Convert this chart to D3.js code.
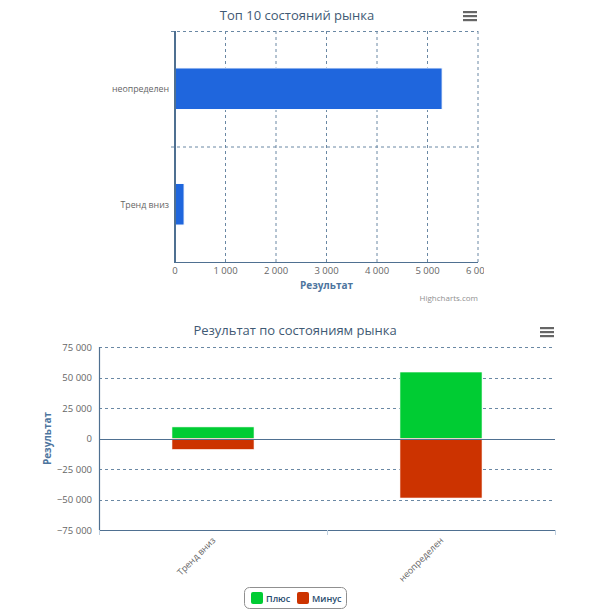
<!DOCTYPE html>
<html><head><meta charset="utf-8">
<script src="https://cdn.jsdelivr.net/npm/d3@7"></script>
<style>
html,body{margin:0;padding:0;background:#fff;}
svg{display:block;font-family:"Open Sans","DejaVu Sans",sans-serif;}
</style></head>
<body><svg id="c" width="590" height="611"></svg>
<script>
// ---- data ----
const topTitle = "Топ 10 состояний рынка";
const topCategories = ["неопределен", "Тренд вниз"];
const topValues = [5290, 180];
const topTicks = [0, 1000, 2000, 3000, 4000, 5000, 6000];

const botTitle = "Результат по состояниям рынка";
const botCategories = ["Тренд вниз", "неопределен"];
const plusValues = [9500, 54500];
const minusValues = [-9000, -48800];
const botTicks = [-75000, -50000, -25000, 0, 25000, 50000, 75000];
const seriesNames = ["Плюс", "Минус"];
const seriesColors = ["#00cc33", "#cc3300"];
const axisTitle = "Результат";

const fmt = v => {
  const s = d3.format(",")(Math.abs(v)).replace(/,/g, " ");
  return (v < 0 ? "−" : "") + s;
};

const svg = d3.select("#c");
const gridColor = "#6a88a4";
const axisColor = "#4f7091";
const titleColor = "#3f5a74";
const labelColor = "#666";

svg.append("defs").append("clipPath").attr("id", "topclip")
  .append("rect").attr("x", 0).attr("y", 0).attr("width", 484).attr("height", 310);

function menuIcon(x, y) {
  for (let i = 0; i < 3; i++) {
    svg.append("rect").attr("x", x).attr("y", y + i * 4).attr("width", 14).attr("height", 2.2)
      .attr("fill", "#666");
  }
}

// ================= TOP CHART (horizontal bar) =================
{
  const L = 175, R = 478, T = 31, B = 262;
  const x = d3.scaleLinear().domain([0, 6000]).range([L, R]);
  const y = d3.scaleBand().domain(topCategories).range([T, B]).padding(0);

  svg.append("text").attr("x", 297).attr("y", 20).attr("text-anchor", "middle")
    .attr("font-size", 13).attr("fill", titleColor).text(topTitle);
  menuIcon(463, 11);

  const g = svg.append("g").attr("clip-path", "url(#topclip)");
  // vertical dashed gridlines
  g.selectAll(".vg").data(topTicks.slice(1)).join("line")
    .attr("x1", d => x(d)).attr("x2", d => x(d)).attr("y1", T).attr("y2", B)
    .attr("stroke", gridColor).attr("stroke-dasharray", "3,3").attr("stroke-width", 1);
  // horizontal category gridlines (band boundaries)
  const bounds = [T, y(topCategories[1])];
  g.selectAll(".hg").data(bounds).join("line")
    .attr("x1", L - 4).attr("x2", R).attr("y1", d => d + 0.5).attr("y2", d => d + 0.5)
    .attr("stroke", gridColor).attr("stroke-dasharray", "3,3").attr("stroke-width", 1);

  // bars
  const bh = y.bandwidth() * 0.36;
  g.selectAll(".bar").data(topCategories).join("rect")
    .attr("x", x(0)).attr("y", d => y(d) + y.bandwidth() / 2 - bh / 2)
    .attr("width", (d, i) => x(topValues[i]) - x(0)).attr("height", bh)
    .attr("fill", "#1f66dd").attr("stroke", "#fff").attr("stroke-width", 1);

  // axes lines
  g.append("line").attr("x1", L).attr("x2", R).attr("y1", B + 0.5).attr("y2", B + 0.5)
    .attr("stroke", axisColor).attr("stroke-width", 1);
  g.append("line").attr("x1", L).attr("x2", L).attr("y1", T).attr("y2", B + 1)
    .attr("stroke", axisColor).attr("stroke-width", 2);

  // category labels
  g.selectAll(".cl").data(topCategories).join("text")
    .attr("x", 169).attr("y", d => y(d) + y.bandwidth() / 2 + 3.5)
    .attr("text-anchor", "end").attr("font-size", 8.8).attr("fill", labelColor).text(d => d);

  // tick labels
  g.selectAll(".tl").data(topTicks).join("text")
    .attr("x", d => x(d)).attr("y", 274).attr("text-anchor", "middle")
    .attr("font-size", 9.5).attr("fill", labelColor).text(d => fmt(d));

  g.append("text").attr("x", (L + R) / 2).attr("y", 289).attr("text-anchor", "middle")
    .attr("font-size", 10).attr("font-weight", "bold").attr("fill", "#4d759e").text(axisTitle);

  g.append("text").attr("x", R).attr("y", 301).attr("text-anchor", "end")
    .attr("font-size", 8).attr("fill", "#909090").text("Highcharts.com");
}

// ================= BOTTOM CHART (stacked column) =================
{
  const L = 99, R = 555, T = 347, B = 530;
  const yS = d3.scaleLinear().domain([-75000, 75000]).range([B, T]);
  const x = d3.scaleBand().domain(botCategories).range([L, R]).padding(0);

  svg.append("text").attr("x", 295).attr("y", 335).attr("text-anchor", "middle")
    .attr("font-size", 13).attr("fill", titleColor).text(botTitle);
  menuIcon(540, 327);

  const g = svg.append("g");
  // dashed horizontal gridlines
  g.selectAll(".hg").data(botTicks.filter(d => d !== 0 && d !== -75000)).join("line")
    .attr("x1", L).attr("x2", R).attr("y1", d => Math.round(yS(d)) + 0.5).attr("y2", d => Math.round(yS(d)) + 0.5)
    .attr("stroke", gridColor).attr("stroke-dasharray", "3,3").attr("stroke-width", 1);

  // bars
  const bw = x.bandwidth() * 0.36;
  botCategories.forEach((c, i) => {
    const cx = x(c) + x.bandwidth() / 2;
    g.append("rect").attr("x", cx - bw / 2).attr("y", yS(plusValues[i]))
      .attr("width", bw).attr("height", yS(0) - yS(plusValues[i]))
      .attr("fill", seriesColors[0]).attr("stroke", "#fff").attr("stroke-width", 0.6);
    g.append("rect").attr("x", cx - bw / 2).attr("y", yS(0))
      .attr("width", bw).attr("height", yS(minusValues[i]) - yS(0))
      .attr("fill", seriesColors[1]).attr("stroke", "#fff").attr("stroke-width", 0.6);
  });

  // zero line
  g.append("line").attr("x1", L).attr("x2", R).attr("y1", Math.round(yS(0)) + 0.5).attr("y2", Math.round(yS(0)) + 0.5)
    .attr("stroke", axisColor).attr("stroke-width", 1);
  // axis lines
  g.append("line").attr("x1", L).attr("x2", R).attr("y1", B + 0.5).attr("y2", B + 0.5)
    .attr("stroke", axisColor).attr("stroke-width", 1.2);
  g.append("line").attr("x1", L + 0.5).attr("x2", L + 0.5).attr("y1", T).attr("y2", B)
    .attr("stroke", axisColor).attr("stroke-width", 1.2);
  // category ticks
  const tickXs = [L, x(botCategories[1]), R];
  g.selectAll(".ct").data(tickXs).join("line")
    .attr("x1", d => d + 0.5).attr("x2", d => d + 0.5).attr("y1", B).attr("y2", B + 5)
    .attr("stroke", "#c0d0e0").attr("stroke-width", 1);

  // y tick labels
  g.selectAll(".yl").data(botTicks).join("text")
    .attr("x", 92).attr("y", d => yS(d) + 3.5).attr("text-anchor", "end")
    .attr("font-size", 9.5).attr("fill", labelColor).text(d => fmt(d));

  // y title
  g.append("text").attr("transform", `translate(51,${(T + B) / 2}) rotate(-90)`)
    .attr("text-anchor", "middle").attr("font-size", 10).attr("font-weight", "bold")
    .attr("fill", "#4d759e").text(axisTitle);

  // rotated category labels
  g.selectAll(".xl").data(botCategories).join("text")
    .attr("transform", d => `translate(${x(d) + x.bandwidth() / 2 + 3},${B + 11}) rotate(-45)`)
    .attr("text-anchor", "end").attr("font-size", 9).attr("fill", labelColor).text(d => d);

  // legend
  const lg = svg.append("g");
  lg.append("rect").attr("x", 244.5).attr("y", 587.5).attr("width", 102).attr("height", 21)
    .attr("rx", 5).attr("fill", "#fff").attr("stroke", "#909090").attr("stroke-width", 1);
  const itemX = [251, 297];
  seriesNames.forEach((n, i) => {
    lg.append("rect").attr("x", itemX[i]).attr("y", 592).attr("width", 12).attr("height", 12)
      .attr("rx", 2).attr("fill", seriesColors[i]);
    lg.append("text").attr("x", itemX[i] + 15).attr("y", 601.5).attr("font-size", 9)
      .attr("fill", "#274b6d").attr("font-weight", 600).text(n);
  });
}
</script></body></html>
